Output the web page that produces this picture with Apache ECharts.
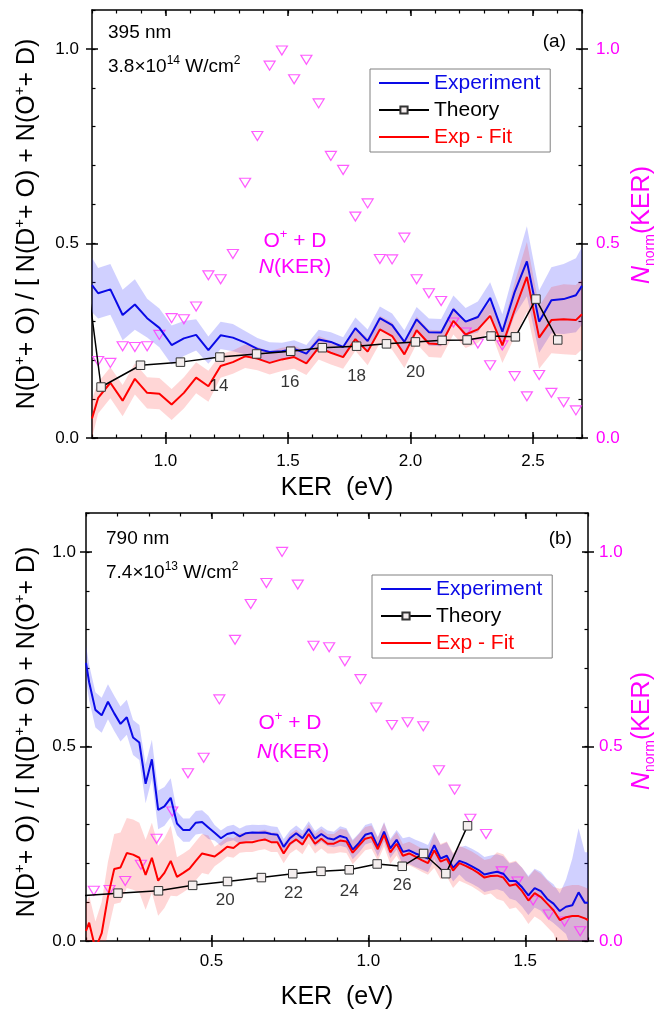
<!DOCTYPE html>
<html><head><meta charset="utf-8">
<script src="https://cdn.jsdelivr.net/npm/echarts@6/dist/echarts.min.js"></script>
<style>html,body{margin:0;padding:0;background:#fff}#c{width:656px;height:1011px}</style>
</head><body><div id="c"></div>
<script>
// ================= Panel (a): 395 nm =================
const keA = [0.70,0.725,0.775,0.825,0.875,0.925,0.975,1.025,1.075,1.125,1.175,1.225,1.275,1.325,1.375,1.425,1.475,1.525,1.575,1.625,1.675,1.725,1.775,1.825,1.875,1.925,1.975,2.025,2.075,2.125,2.175,2.225,2.275,2.325,2.375,2.425,2.475,2.525,2.575,2.625,2.675,2.70];
const expA = [0.393,0.372,0.382,0.316,0.343,0.308,0.283,0.239,0.256,0.265,0.226,0.264,0.258,0.245,0.229,0.221,0.223,0.229,0.217,0.253,0.247,0.234,0.282,0.249,0.308,0.290,0.247,0.305,0.272,0.271,0.331,0.299,0.311,0.360,0.273,0.375,0.454,0.299,0.354,0.357,0.367,0.391];
const expErrA = [0.07,0.065,0.065,0.065,0.065,0.05,0.05,0.05,0.045,0.04,0.035,0.035,0.035,0.03,0.028,0.025,0.022,0.022,0.022,0.025,0.025,0.025,0.028,0.03,0.03,0.03,0.03,0.032,0.035,0.035,0.035,0.035,0.04,0.04,0.045,0.06,0.09,0.08,0.085,0.09,0.095,0.10];
const fitA = [0.050,0.103,0.142,0.096,0.152,0.116,0.114,0.086,0.116,0.155,0.133,0.185,0.195,0.210,0.204,0.193,0.202,0.208,0.192,0.232,0.219,0.208,0.254,0.222,0.279,0.262,0.215,0.277,0.243,0.241,0.301,0.266,0.279,0.314,0.238,0.329,0.414,0.258,0.303,0.305,0.303,0.318];
const fitErrA = [0.05,0.04,0.04,0.04,0.04,0.04,0.04,0.04,0.04,0.04,0.04,0.03,0.03,0.03,0.03,0.03,0.03,0.03,0.03,0.03,0.03,0.03,0.03,0.035,0.035,0.035,0.035,0.035,0.035,0.035,0.035,0.035,0.035,0.035,0.045,0.07,0.09,0.08,0.085,0.09,0.09,0.09];
const theoryKeA = [0.68,0.737,0.898,1.061,1.222,1.372,1.511,1.640,1.780,1.902,2.020,2.129,2.231,2.329,2.428,2.512,2.601];
const theoryA = [0.41,0.131,0.187,0.195,0.208,0.216,0.223,0.232,0.236,0.242,0.247,0.251,0.252,0.262,0.260,0.357,0.252];
const nkerKeA = [0.725,0.775,0.825,0.875,0.925,0.975,1.025,1.075,1.125,1.175,1.225,1.275,1.325,1.375,1.425,1.475,1.525,1.575,1.625,1.675,1.725,1.775,1.825,1.875,1.925,1.975,2.025,2.075,2.125,2.175,2.225,2.275,2.325,2.375,2.425,2.475,2.525,2.575,2.625,2.675];
const nkerA = [0.198,0.193,0.236,0.234,0.236,0.265,0.308,0.305,0.338,0.418,0.408,0.473,0.656,0.776,0.957,0.996,0.922,0.972,0.860,0.725,0.689,0.569,0.603,0.460,0.459,0.515,0.408,0.372,0.352,0.297,0.271,0.243,0.187,0.238,0.159,0.107,0.162,0.116,0.092,0.071];
const stateLabelsA = ['14','16','18','20'];
const stateKeA = [1.218,1.508,1.780,2.020];
const stateYA = [0.133,0.144,0.159,0.169];
const xMajorA = [1.0,1.5,2.0,2.5];

// ================= Panel (b): 790 nm =================
const keB = [0.10,0.11,0.13,0.15,0.17,0.19,0.21,0.23,0.25,0.27,0.29,0.31,0.33,0.35,0.37,0.39,0.41,0.43,0.45,0.47,0.49,0.51,0.53,0.55,0.57,0.59,0.61,0.63,0.65,0.67,0.69,0.71,0.73,0.75,0.77,0.79,0.81,0.83,0.85,0.87,0.89,0.91,0.93,0.95,0.97,0.99,1.01,1.03,1.05,1.07,1.09,1.11,1.13,1.15,1.17,1.19,1.21,1.23,1.25,1.27,1.29,1.31,1.33,1.35,1.37,1.39,1.41,1.43,1.45,1.47,1.49,1.51,1.53,1.55,1.57,1.59,1.61,1.63,1.65,1.67,1.69,1.70];
const expB = [0.715,0.665,0.594,0.580,0.615,0.585,0.558,0.575,0.523,0.510,0.404,0.467,0.337,0.346,0.368,0.302,0.285,0.285,0.304,0.306,0.292,0.278,0.264,0.275,0.279,0.269,0.277,0.279,0.278,0.279,0.275,0.273,0.242,0.264,0.277,0.264,0.288,0.263,0.275,0.264,0.261,0.270,0.265,0.235,0.252,0.273,0.278,0.242,0.281,0.238,0.260,0.229,0.233,0.225,0.219,0.212,0.246,0.212,0.219,0.188,0.206,0.200,0.192,0.183,0.171,0.175,0.178,0.173,0.154,0.154,0.138,0.117,0.136,0.128,0.108,0.096,0.077,0.088,0.092,0.125,0.098,0.098];
const expErrB = [0.045,0.045,0.045,0.045,0.045,0.045,0.045,0.045,0.045,0.045,0.05,0.05,0.05,0.05,0.05,0.03,0.03,0.03,0.03,0.03,0.03,0.02,0.02,0.02,0.02,0.02,0.02,0.02,0.02,0.02,0.02,0.02,0.02,0.02,0.02,0.02,0.02,0.02,0.02,0.02,0.02,0.025,0.025,0.025,0.025,0.025,0.025,0.025,0.025,0.025,0.025,0.035,0.035,0.035,0.035,0.035,0.035,0.035,0.035,0.035,0.035,0.045,0.045,0.045,0.045,0.045,0.045,0.045,0.045,0.05,0.05,0.05,0.05,0.05,0.05,0.05,0.045,0.07,0.12,0.165,0.13,0.13];
const fitB = [0.026,0.047,-0.02,0.020,0.114,0.185,0.189,0.226,0.222,0.214,0.170,0.214,0.155,0.175,0.206,0.165,0.175,0.186,0.206,0.225,0.221,0.217,0.229,0.242,0.239,0.252,0.254,0.254,0.258,0.261,0.254,0.254,0.225,0.250,0.261,0.248,0.275,0.250,0.263,0.250,0.250,0.258,0.256,0.227,0.245,0.263,0.267,0.236,0.273,0.228,0.250,0.219,0.225,0.217,0.208,0.200,0.233,0.204,0.211,0.181,0.200,0.193,0.185,0.175,0.163,0.167,0.168,0.163,0.142,0.146,0.128,0.104,0.123,0.113,0.096,0.079,0.054,0.061,0.064,0.064,0.058,0.054];
const fitErrB = [0.07,0.07,0.07,0.08,0.09,0.09,0.09,0.09,0.09,0.09,0.09,0.09,0.09,0.09,0.09,0.05,0.05,0.05,0.05,0.05,0.05,0.025,0.025,0.025,0.025,0.025,0.025,0.025,0.025,0.025,0.025,0.025,0.025,0.025,0.025,0.025,0.025,0.025,0.025,0.025,0.025,0.03,0.03,0.03,0.03,0.03,0.03,0.03,0.03,0.03,0.03,0.03,0.03,0.03,0.03,0.03,0.045,0.045,0.045,0.045,0.045,0.045,0.045,0.045,0.045,0.045,0.06,0.06,0.06,0.06,0.06,0.06,0.06,0.06,0.06,0.06,0.08,0.08,0.08,0.08,0.08,0.08];
const theoryKeB = [0.08,0.202,0.331,0.440,0.551,0.659,0.759,0.849,0.939,1.028,1.108,1.176,1.247,1.316];
const theoryB = [0.116,0.123,0.129,0.143,0.153,0.163,0.173,0.179,0.183,0.198,0.192,0.225,0.173,0.296];
const nkerKeB = [0.125,0.175,0.225,0.275,0.325,0.375,0.425,0.475,0.525,0.575,0.625,0.675,0.725,0.775,0.825,0.875,0.925,0.975,1.025,1.075,1.125,1.175,1.225,1.275,1.325,1.375,1.425,1.475,1.525,1.575,1.625,1.675];
const nkerB = [0.129,0.131,0.154,0.196,0.263,0.333,0.431,0.471,0.621,0.774,0.866,0.920,1.0,0.916,0.759,0.755,0.719,0.673,0.600,0.555,0.562,0.552,0.439,0.389,0.314,0.275,0.179,0.153,0.104,0.068,0.050,0.025];
const stateLabelsB = ['20','22','24','26'];
const stateKeB = [0.544,0.761,0.939,1.108];
const stateYB = [0.104,0.123,0.128,0.143];
const xMajorB = [0.5,1.0,1.5];

const yMajor = [0.0,0.5,1.0];

// ================= styling =================
const FONT = '"Liberation Sans", Arial, Helvetica, sans-serif';
const BLACK = '#000';
const MAG = '#ff00ff';
const BLUE = '#0a0ae6';
const RED = '#ff0000';

function xAxesFor(gi, min, max, major, margin, gap) {
  const base = {gridIndex: gi, type: 'value', min: min, max: max, splitLine: {show: false}};
  const tickStyle = {color: BLACK, width: 1.5};
  return [
    Object.assign({}, base, {position: 'bottom',
      axisLine: {show: true, onZero: false, lineStyle: {color: BLACK, width: 1.5}},
      axisTick: {show: true, inside: true, length: 6, customValues: major, lineStyle: tickStyle},
      axisLabel: {show: true, customValues: major, formatter: v => v.toFixed(1), fontSize: 17, color: BLACK, margin: margin, fontFamily: FONT},
      name: 'KER  (eV)', nameLocation: 'middle', nameGap: gap,
      nameTextStyle: {fontSize: 25, color: BLACK, fontFamily: FONT}}),
    Object.assign({}, base, {position: 'bottom',
      axisLine: {show: false, onZero: false},
      axisTick: {show: true, inside: false, length: 6, customValues: major, lineStyle: tickStyle},
      axisLabel: {show: false}}),
    Object.assign({}, base, {position: 'bottom', interval: 0.1,
      axisLine: {show: false, onZero: false},
      axisTick: {show: true, inside: true, length: 3.5, lineStyle: {color: BLACK, width: 1.2}},
      axisLabel: {show: false}}),
    Object.assign({}, base, {position: 'top',
      axisLine: {show: true, onZero: false, lineStyle: {color: BLACK, width: 1.5}},
      axisTick: {show: true, inside: true, length: 6, customValues: major, lineStyle: tickStyle},
      axisLabel: {show: false}}),
    Object.assign({}, base, {position: 'top', interval: 0.1,
      axisLine: {show: false, onZero: false},
      axisTick: {show: true, inside: true, length: 3.5, lineStyle: {color: BLACK, width: 1.2}},
      axisLabel: {show: false}})
  ];
}

function yAxesFor(gi, lMargin, rMargin) {
  const base = {gridIndex: gi, type: 'value', min: 0, max: 1.1, splitLine: {show: false}};
  const tickStyle = {color: BLACK, width: 1.5};
  return [
    Object.assign({}, base, {position: 'left',
      axisLine: {show: true, onZero: false, lineStyle: {color: BLACK, width: 1.5}},
      axisTick: {show: true, inside: true, length: 6, customValues: yMajor, lineStyle: tickStyle},
      axisLabel: {show: true, customValues: yMajor, formatter: v => v.toFixed(1), fontSize: 17, color: BLACK, margin: lMargin, fontFamily: FONT}}),
    Object.assign({}, base, {position: 'left',
      axisLine: {show: false, onZero: false},
      axisTick: {show: true, inside: false, length: 6, customValues: yMajor, lineStyle: tickStyle},
      axisLabel: {show: false}}),
    Object.assign({}, base, {position: 'left', interval: 0.1,
      axisLine: {show: false, onZero: false},
      axisTick: {show: true, inside: true, length: 3.5, lineStyle: {color: BLACK, width: 1.2}},
      axisLabel: {show: false}}),
    Object.assign({}, base, {position: 'right',
      axisLine: {show: true, onZero: false, lineStyle: {color: BLACK, width: 1.5}},
      axisTick: {show: true, inside: true, length: 6, customValues: yMajor, lineStyle: tickStyle},
      axisLabel: {show: true, customValues: yMajor, formatter: v => v.toFixed(1), fontSize: 17, color: MAG, margin: rMargin, fontFamily: FONT}}),
    Object.assign({}, base, {position: 'right',
      axisLine: {show: false, onZero: false},
      axisTick: {show: true, inside: false, length: 6, customValues: yMajor, lineStyle: tickStyle},
      axisLabel: {show: false}}),
    Object.assign({}, base, {position: 'right', interval: 0.1,
      axisLine: {show: false, onZero: false},
      axisTick: {show: true, inside: true, length: 3.5, lineStyle: {color: BLACK, width: 1.2}},
      axisLabel: {show: false}})
  ];
}

function bandSeries(xs, ys, errs, fill, xi, yi) {
  const pts = xs.map((x, i) => [x, ys[i] - errs[i], ys[i] + errs[i]]);
  return {type: 'custom', xAxisIndex: xi, yAxisIndex: yi, data: pts, encode: {x: 0, y: [1, 2]},
    silent: true, z: 1,
    renderItem: function (params, api) {
      if (params.dataIndex !== 0) return null;
      const upper = pts.map(p => api.coord([p[0], p[2]]));
      const lower = pts.map(p => api.coord([p[0], p[1]])).reverse();
      const cs = params.coordSys;
      return {type: 'polygon', shape: {points: upper.concat(lower)}, style: {fill: fill},
        clipPath: {type: 'rect', shape: {x: cs.x, y: cs.y, width: cs.width, height: cs.height}}};
    }};
}
function lineSeries(name, xs, ys, color, xi, yi) {
  return {type: 'line', name: name, xAxisIndex: xi, yAxisIndex: yi,
    data: xs.map((x, i) => [x, ys[i]]), symbol: 'none', clip: true, silent: true, z: 3,
    lineStyle: {color: color, width: 2}, itemStyle: {color: color}};
}
function theorySeries(xs, ys, xi, yi) {
  return {type: 'line', name: 'Theory', xAxisIndex: xi, yAxisIndex: yi,
    data: xs.map((x, i) => [x, ys[i]]), symbol: 'rect', symbolSize: 8.5, showSymbol: true,
    clip: true, silent: true, z: 4,
    lineStyle: {color: '#000', width: 1.5},
    itemStyle: {color: '#f4eeee', borderColor: '#333', borderWidth: 1}};
}
function nkerSeries(xs, ys, xi, yi) {
  return {type: 'scatter', name: 'N(KER)', xAxisIndex: xi, yAxisIndex: yi,
    data: xs.map((x, i) => [x, ys[i]]), symbol: 'triangle', symbolRotate: 180,
    symbolSize: [11, 9], silent: true, z: 2,
    itemStyle: {color: 'rgba(0,0,0,0)', borderColor: '#ff33ff', borderWidth: 1.2}};
}
function stateSeries(xs, ys, labels, xi, yi) {
  return {type: 'scatter', xAxisIndex: xi, yAxisIndex: yi,
    data: xs.map((x, i) => [x, ys[i], labels[i]]), symbolSize: 1, silent: true, z: 5,
    itemStyle: {color: 'rgba(0,0,0,0)'},
    label: {show: true, position: 'inside', formatter: p => p.data[2], fontSize: 17, color: '#000', fontFamily: FONT}};
}
function legendFor(left, top) {
  return {left: left, top: top, orient: 'vertical', itemWidth: 50, itemHeight: 9, itemGap: 5,
    padding: [3, 10, 4, 8], borderColor: '#808080', borderWidth: 1, backgroundColor: '#fff',
    selectedMode: false,
    textStyle: {fontSize: 21, lineHeight: 22, fontFamily: FONT},
    data: [
      {name: 'Experiment', textStyle: {color: BLUE}, itemStyle: {opacity: 0}},
      {name: 'Theory', textStyle: {color: '#000'}},
      {name: 'Exp - Fit', textStyle: {color: RED}, itemStyle: {opacity: 0}}
    ]};
}
function txt(x, y, text, opts) {
  return {type: 'text', x: x, y: y, silent: true, z: 10,
    style: Object.assign({text: text, fontSize: 19, fontFamily: FONT, fill: '#000', align: 'left', verticalAlign: 'middle'}, opts || {})};
}
function vtxt(x, y, text, style) {
  return {type: 'text', x: x, y: y, rotation: Math.PI / 2, silent: true, z: 10,
    style: Object.assign({text: text, fontFamily: FONT, align: 'center', verticalAlign: 'middle'}, style)};
}
const supRich = {s: {fontSize: 12, lineHeight: 12, verticalAlign: 'top', fontFamily: FONT, fill: '#000', color: '#000'}};
const magRich = {
  s: {fontSize: 13, lineHeight: 13, verticalAlign: 'top', fontFamily: FONT, color: MAG, fill: MAG},
  i: {fontSize: 21, lineHeight: 26, fontStyle: 'italic', fontFamily: FONT, color: MAG, fill: MAG}
};
const leftTitle = 'N(D{s|+}+ O) / [ N(D{s|+}+ O) + N(O{s|+}+ D)';
const leftTitleStyle = {fontSize: 25, lineHeight: 30, fill: '#000',
  rich: {s: {fontSize: 15, lineHeight: 15, verticalAlign: 'top', fontFamily: FONT, fill: '#000', color: '#000'}}};
const rightTitle = '{i|N}{b|norm}(KER)';
const rightTitleStyle = {fontSize: 25, lineHeight: 30, fill: MAG,
  rich: {i: {fontSize: 25, lineHeight: 30, fontStyle: 'italic', fontFamily: FONT, fill: MAG, color: MAG},
         b: {fontSize: 14, lineHeight: 14, verticalAlign: 'bottom', fontFamily: FONT, fill: MAG, color: MAG}}};

const BLUE_BAND = 'rgba(40,40,255,0.22)';
const RED_BAND = 'rgba(255,30,30,0.18)';

const option = {
  animation: false,
  textStyle: {fontFamily: FONT},
  grid: [
    {left: 92, top: 10, width: 490, height: 428, containLabel: false},
    {left: 86, top: 513, width: 502, height: 439, containLabel: false}
  ],
  xAxis: xAxesFor(0, 0.7, 2.7, xMajorA, 15, 38).concat(xAxesFor(1, 0.1, 1.7, xMajorB, 12, 44)),
  yAxis: yAxesFor(0, 13, 14).concat(yAxesFor(1, 10, 11)),
  legend: [legendFor(370, 69), legendFor(372, 575)],
  series: [
    bandSeries(keA, expA, expErrA, BLUE_BAND, 0, 0),
    bandSeries(keA, fitA, fitErrA, RED_BAND, 0, 0),
    nkerSeries(nkerKeA, nkerA, 0, 3),
    lineSeries('Experiment', keA, expA, BLUE, 0, 0),
    lineSeries('Exp - Fit', keA, fitA, RED, 0, 0),
    theorySeries(theoryKeA, theoryA, 0, 0),
    stateSeries(stateKeA, stateYA, stateLabelsA, 0, 0),

    bandSeries(keB, expB, expErrB, BLUE_BAND, 5, 6),
    bandSeries(keB, fitB, fitErrB, RED_BAND, 5, 6),
    nkerSeries(nkerKeB, nkerB, 5, 9),
    lineSeries('Experiment', keB, expB, BLUE, 5, 6),
    lineSeries('Exp - Fit', keB, fitB, RED, 5, 6),
    theorySeries(theoryKeB, theoryB, 5, 6),
    stateSeries(stateKeB, stateYB, stateLabelsB, 5, 6)
  ],
  graphic: [
    txt(108, 33, '395 nm'),
    txt(108, 67, '3.8×10{s|14} W/cm{s|2}', {rich: supRich, lineHeight: 24}),
    txt(566, 42, '(a)', {align: 'right'}),
    txt(295, 241, 'O{s|+} + D', {rich: magRich, fontSize: 21, lineHeight: 26, fill: MAG, align: 'center'}),
    txt(295, 267, '{i|N}(KER)', {rich: magRich, fontSize: 21, lineHeight: 26, fill: MAG, align: 'center'}),
    txt(106, 539, '790 nm'),
    txt(106, 573, '7.4×10{s|13} W/cm{s|2}', {rich: supRich, lineHeight: 24}),
    txt(572, 539, '(b)', {align: 'right'}),
    txt(290, 723, 'O{s|+} + D', {rich: magRich, fontSize: 21, lineHeight: 26, fill: MAG, align: 'center'}),
    txt(293, 752, '{i|N}(KER)', {rich: magRich, fontSize: 21, lineHeight: 26, fill: MAG, align: 'center'}),
    vtxt(27, 224, leftTitle, leftTitleStyle),
    vtxt(27, 732, leftTitle, leftTitleStyle),
    vtxt(642, 225, rightTitle, rightTitleStyle),
    vtxt(642, 731, rightTitle, rightTitleStyle)
  ]
};

const chart = echarts.init(document.getElementById('c'), null, {renderer: 'canvas'});
chart.setOption(option);
</script></body></html>
